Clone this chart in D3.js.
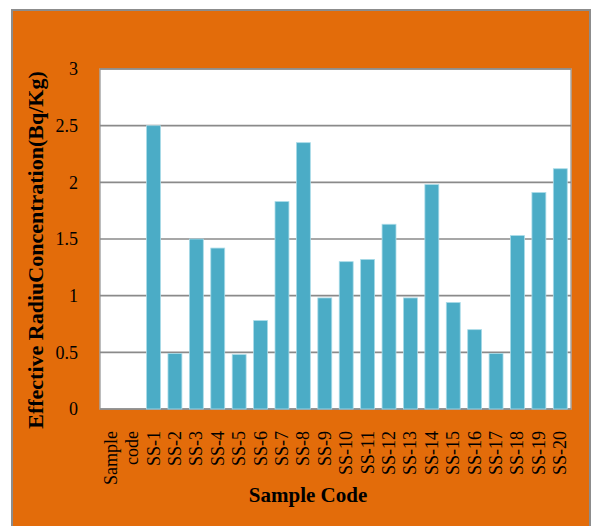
<!DOCTYPE html>
<html>
<head>
<meta charset="utf-8">
<script src="https://cdn.jsdelivr.net/npm/d3@7"></script>
<style>
  html, body { margin: 0; padding: 0; background: #ffffff; }
  svg { display: block; }
</style>
</head>
<body>
<svg id="chart" width="593" height="526"></svg>
<script>
// Sample codes along the x axis (the header cells "Sample" / "code" carry no value)
const categories = ["Sample", "code", "SS-1", "SS-2", "SS-3", "SS-4", "SS-5", "SS-6", "SS-7", "SS-8", "SS-9", "SS-10",
  "SS-11", "SS-12", "SS-13", "SS-14", "SS-15", "SS-16", "SS-17", "SS-18", "SS-19", "SS-20"];
// Effective radium concentration (Bq/Kg) per sample
const values = [null, null, 2.50, 0.49, 1.50, 1.42, 0.48, 0.78, 1.83, 2.35, 0.98, 1.30,
  1.32, 1.63, 0.98, 1.98, 0.94, 0.70, 0.49, 1.53, 1.91, 2.12];
const yTicks = [0, 0.5, 1, 1.5, 2, 2.5, 3];
const yTitle = "Effective RadiuConcentration(Bq/Kg)";
const xTitle = "Sample Code";

const svg = d3.select("#chart");
const serif = "'Liberation Serif', 'Times New Roman', serif";

// Orange chart frame
svg.append("rect")
  .attr("x", 12).attr("y", 10).attr("width", 578).attr("height", 530)
  .attr("fill", "#E36C0A").attr("stroke", "#8c8c8c").attr("stroke-width", 2);

const plot = { left: 100, right: 571, top: 69, bottom: 409 };

const x = d3.scaleBand()
  .domain(categories)
  .range([plot.left, plot.right])
  .paddingInner(0.35)
  .paddingOuter(0.175);

const y = d3.scaleLinear()
  .domain([0, 3])
  .range([plot.bottom, plot.top]);

// Plot area
svg.append("rect")
  .attr("x", plot.left).attr("y", plot.top)
  .attr("width", plot.right - plot.left).attr("height", plot.bottom - plot.top)
  .attr("fill", "#ffffff").attr("stroke", "#a6a6a6").attr("stroke-width", 1.5);

// Horizontal gridlines
svg.append("g")
  .selectAll("line")
  .data(yTicks)
  .join("line")
  .attr("x1", plot.left).attr("x2", plot.right)
  .attr("y1", d => y(d)).attr("y2", d => y(d))
  .attr("stroke", "#8a8a8a").attr("stroke-width", 1.6);

// Bars
svg.append("g")
  .selectAll("rect")
  .data(categories.map((c, i) => ({ c, v: values[i] })).filter(d => d.v != null))
  .join("rect")
  .attr("x", d => x(d.c))
  .attr("y", d => y(d.v))
  .attr("width", x.bandwidth())
  .attr("height", d => y(0) - y(d.v))
  .attr("fill", "#4BACC6")
  .attr("stroke", "#a9dbe8").attr("stroke-width", 0.8);

// Y axis tick labels
const yAxis = d3.axisLeft(y).tickValues(yTicks).tickSize(0).tickPadding(0)
  .tickFormat(d => String(d));
svg.append("g")
  .attr("transform", `translate(${plot.left - 22},0)`)
  .call(yAxis)
  .call(g => g.select(".domain").remove())
  .selectAll("text")
  .attr("font-family", serif).attr("font-size", 18).attr("fill", "#000");

// X axis tick labels, rotated
const xAxis = d3.axisBottom(x).tickSize(0).tickPadding(0);
const gx = svg.append("g")
  .attr("transform", `translate(0,${plot.bottom})`)
  .call(xAxis)
  .call(g => g.select(".domain").remove());
gx.selectAll("text")
  .attr("font-family", serif).attr("font-size", 18).attr("fill", "#000")
  .attr("text-anchor", "end")
  .attr("dy", null)
  .attr("dominant-baseline", "central")
  .attr("transform", "translate(0,22) rotate(-90)")
  .attr("x", 0).attr("y", 0);

// Axis titles
svg.append("text")
  .attr("transform", "translate(35,250) rotate(-90)")
  .attr("text-anchor", "middle")
  .attr("dominant-baseline", "central")
  .attr("font-family", serif).attr("font-weight", "bold").attr("font-size", 22)
  .attr("fill", "#000")
  .text(yTitle);

svg.append("text")
  .attr("x", 308).attr("y", 502)
  .attr("text-anchor", "middle")
  .attr("font-family", serif).attr("font-weight", "bold").attr("font-size", 21)
  .attr("fill", "#000")
  .text(xTitle);
</script>
</body>
</html>
